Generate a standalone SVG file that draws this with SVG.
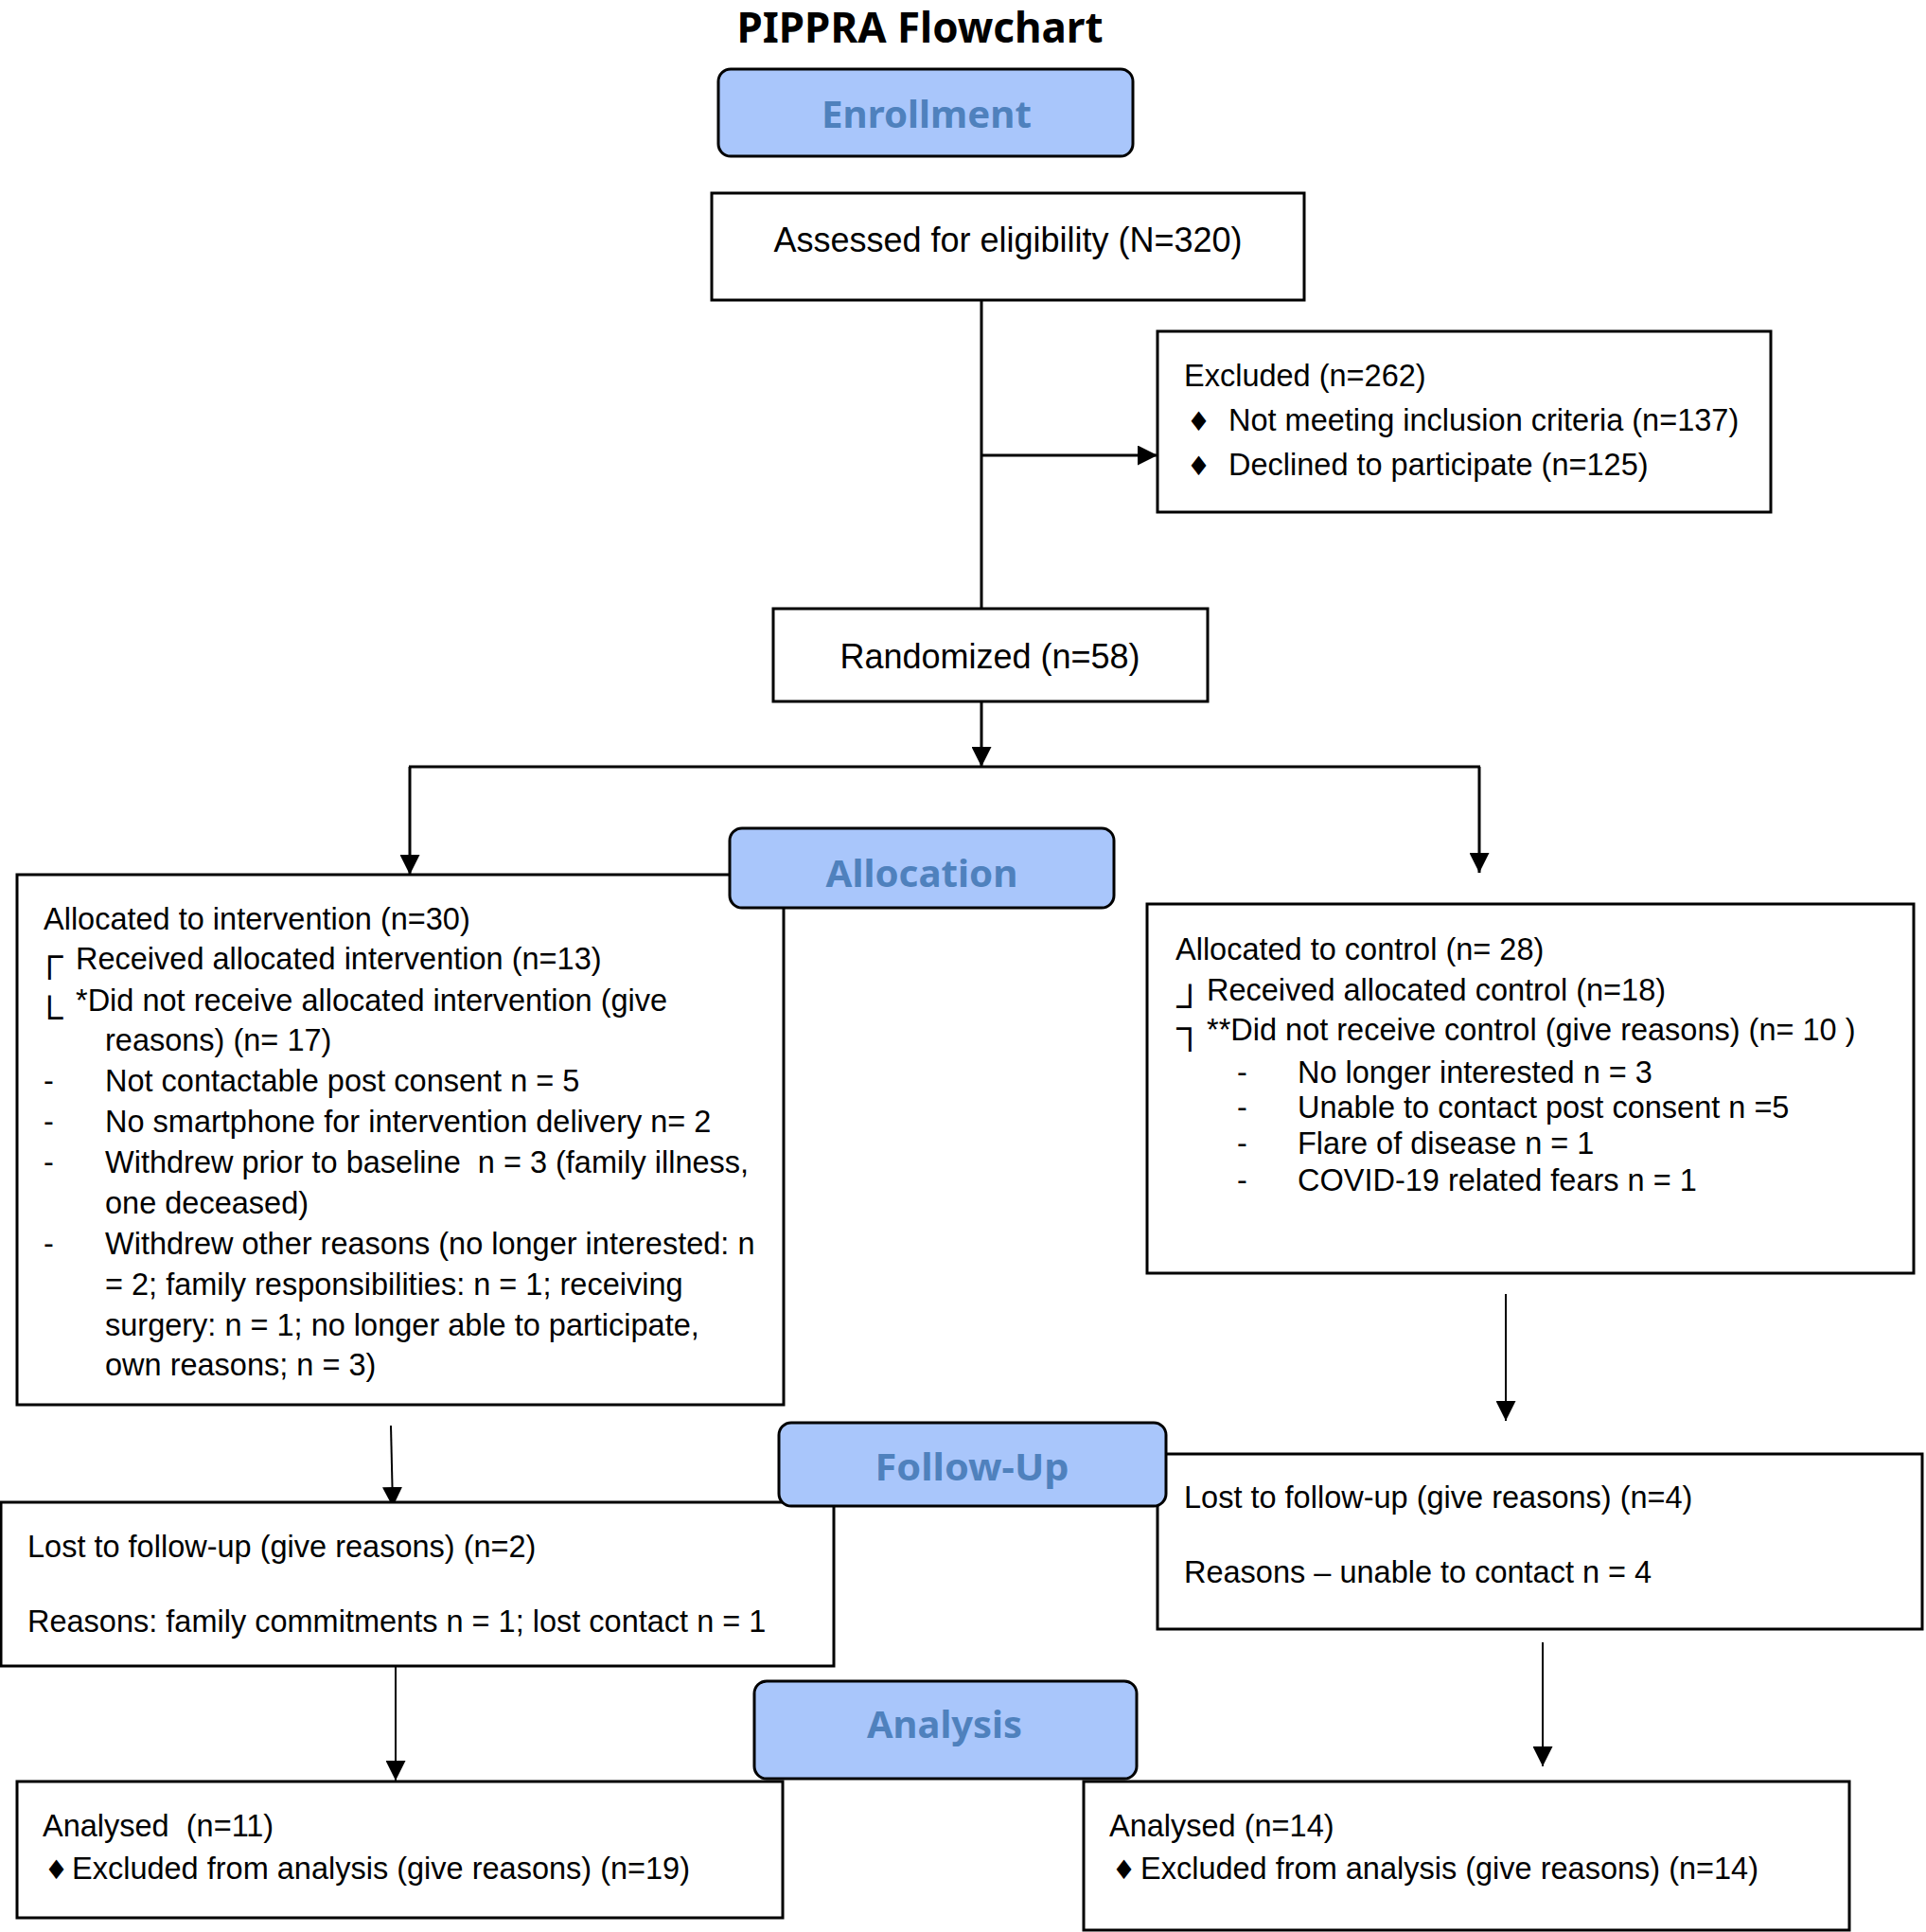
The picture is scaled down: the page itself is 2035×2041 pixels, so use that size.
<svg xmlns="http://www.w3.org/2000/svg" width="2035" height="2041" viewBox="0 0 2035 2041">
<style>
.box{fill:#fff;stroke:#000;stroke-width:3}
.phase{fill:#a9c6fb;stroke:#000;stroke-width:3}
.ptxt{font-family:"Noto Sans","Open Sans",sans-serif;font-weight:bold;font-size:39px;fill:#4f81bd;text-anchor:middle}
.t{font-family:"Liberation Sans",Arial,sans-serif;font-size:32.5px;fill:#000}
.tb{font-family:"Liberation Sans",Arial,sans-serif;font-size:36px;fill:#000;text-anchor:middle}
.sym{font-family:"DejaVu Sans",sans-serif;font-size:28px;fill:#000}
.br{font-family:"DejaVu Sans",sans-serif;font-size:40px;font-weight:200;fill:#000}
.c{stroke:#000;stroke-width:3;fill:none}
.c2{stroke:#000;stroke-width:2;fill:none}
</style>
<defs>
<marker id="ah" markerUnits="userSpaceOnUse" markerWidth="21" markerHeight="21" refX="21" refY="10.5" orient="auto">
<path d="M0,0 L21,10.5 L0,21 Z" fill="#000"/>
</marker>
</defs>
<rect width="2035" height="2041" fill="#fff"/>
<text x="972" y="45" font-family="'Noto Sans','Open Sans',sans-serif" font-weight="bold" font-size="44" text-anchor="middle" textLength="387" lengthAdjust="spacingAndGlyphs">PIPPRA Flowchart</text>

<g id="connectors">
<line class="c" x1="1037" y1="317" x2="1037" y2="643"/>
<line class="c" x1="1037" y1="481" x2="1223" y2="481" marker-end="url(#ah)"/>
<line class="c" x1="1037" y1="741" x2="1037" y2="810" marker-end="url(#ah)"/>
<line class="c" x1="432" y1="810" x2="1564" y2="810"/>
<line class="c" x1="433" y1="810" x2="433" y2="924" marker-end="url(#ah)"/>
<line class="c" x1="1563" y1="810" x2="1563" y2="922" marker-end="url(#ah)"/>
<line class="c2" x1="1591" y1="1367" x2="1591" y2="1501" marker-end="url(#ah)"/>
<line class="c2" x1="413" y1="1506" x2="415" y2="1592" marker-end="url(#ah)"/>
<line class="c2" x1="418" y1="1752" x2="418" y2="1881" marker-end="url(#ah)"/>
<line class="c2" x1="1630" y1="1735" x2="1630" y2="1866" marker-end="url(#ah)"/>
</g>

<g id="assessed">
<rect class="box" x="752" y="204" width="626" height="113"/>
<text class="tb" x="1065" y="266">Assessed for eligibility (N=320)</text>
</g>

<g id="excluded">
<rect class="box" x="1223" y="350" width="648" height="191"/>
<text class="t" x="1251" y="408">Excluded (n=262)</text>
<text class="sym" x="1254" y="455">♦</text>
<text class="t" x="1298" y="455">Not meeting inclusion criteria (n=137)</text>
<text class="sym" x="1254" y="502">♦</text>
<text class="t" x="1298" y="502">Declined to participate (n=125)</text>
</g>

<g id="randomized">
<rect class="box" x="817" y="643" width="459" height="98"/>
<text class="tb" x="1046" y="706">Randomized (n=58)</text>
</g>

<g id="intervention">
<rect class="box" x="18" y="924" width="810" height="560"/>
<text class="t" x="46" y="982">Allocated to intervention (n=30)</text>
<text class="br" x="38" y="1023">┌</text>
<text class="t" x="80" y="1024">Received allocated intervention (n=13)</text>
<text class="br" x="38" y="1088">└</text>
<text class="t" x="80" y="1068">*Did not receive allocated intervention (give</text>
<text class="t" x="111" y="1110">reasons) (n= 17)</text>
<text class="t" x="46" y="1153">-</text>
<text class="t" x="111" y="1153">Not contactable post consent n = 5</text>
<text class="t" x="46" y="1196">-</text>
<text class="t" x="111" y="1196">No smartphone for intervention delivery n= 2</text>
<text class="t" x="46" y="1239">-</text>
<text class="t" x="111" y="1239" xml:space="preserve">Withdrew prior to baseline  n = 3 (family illness,</text>
<text class="t" x="111" y="1282">one deceased)</text>
<text class="t" x="46" y="1325">-</text>
<text class="t" x="111" y="1325">Withdrew other reasons (no longer interested: n</text>
<text class="t" x="111" y="1368">= 2; family responsibilities: n = 1; receiving</text>
<text class="t" x="111" y="1411">surgery: n = 1; no longer able to participate,</text>
<text class="t" x="111" y="1453">own reasons; n = 3)</text>
</g>

<g id="control">
<rect class="box" x="1212" y="955" width="810" height="390"/>
<text class="t" x="1242" y="1014">Allocated to control (n= 28)</text>
<text class="br" x="1243" y="1076">┘</text>
<text class="t" x="1275" y="1057">Received allocated control (n=18)</text>
<text class="br" x="1243" y="1099">┐</text>
<text class="t" x="1275" y="1099">**Did not receive control (give reasons) (n= 10 )</text>
<text class="t" x="1307" y="1144">-</text>
<text class="t" x="1371" y="1144">No longer interested n = 3</text>
<text class="t" x="1307" y="1181">-</text>
<text class="t" x="1371" y="1181">Unable to contact post consent n =5</text>
<text class="t" x="1307" y="1219">-</text>
<text class="t" x="1371" y="1219">Flare of disease n = 1</text>
<text class="t" x="1307" y="1258">-</text>
<text class="t" x="1371" y="1258">COVID-19 related fears n = 1</text>
</g>

<g id="lost-intervention">
<rect class="box" x="1" y="1587" width="880" height="173"/>
<text class="t" x="29" y="1645">Lost to follow-up (give reasons) (n=2)</text>
<text class="t" x="29" y="1724">Reasons: family commitments n = 1; lost contact n = 1</text>
</g>

<g id="lost-control">
<rect class="box" x="1223" y="1536" width="808" height="185"/>
<text class="t" x="1251" y="1593">Lost to follow-up (give reasons) (n=4)</text>
<text class="t" x="1251" y="1672">Reasons – unable to contact n = 4</text>
</g>

<g id="analysed-intervention">
<rect class="box" x="18" y="1882" width="809" height="144"/>
<text class="t" x="45" y="1940" xml:space="preserve">Analysed  (n=11)</text>
<text class="sym" x="47" y="1985">♦</text>
<text class="t" x="76" y="1985">Excluded from analysis (give reasons) (n=19)</text>
</g>

<g id="analysed-control">
<rect class="box" x="1145" y="1882" width="809" height="157"/>
<text class="t" x="1172" y="1940">Analysed (n=14)</text>
<text class="sym" x="1175" y="1985">♦</text>
<text class="t" x="1205" y="1985">Excluded from analysis (give reasons) (n=14)</text>
</g>

<g id="enrollment">
<rect class="phase" x="759" y="73" width="438" height="92" rx="13"/>
<text class="ptxt" x="979" y="135" textLength="222" lengthAdjust="spacingAndGlyphs">Enrollment</text>
</g>
<g id="allocation">
<rect class="phase" x="771" y="875" width="406" height="84" rx="13"/>
<text class="ptxt" x="974" y="937" textLength="203" lengthAdjust="spacingAndGlyphs">Allocation</text>
</g>
<g id="follow-up">
<rect class="phase" x="823" y="1503" width="409" height="88" rx="13"/>
<text class="ptxt" x="1027" y="1564" textLength="205" lengthAdjust="spacingAndGlyphs">Follow-Up</text>
</g>
<g id="analysis">
<rect class="phase" x="797" y="1776" width="404" height="103" rx="13"/>
<text class="ptxt" x="998" y="1836" textLength="164" lengthAdjust="spacingAndGlyphs">Analysis</text>
</g>
</svg>
